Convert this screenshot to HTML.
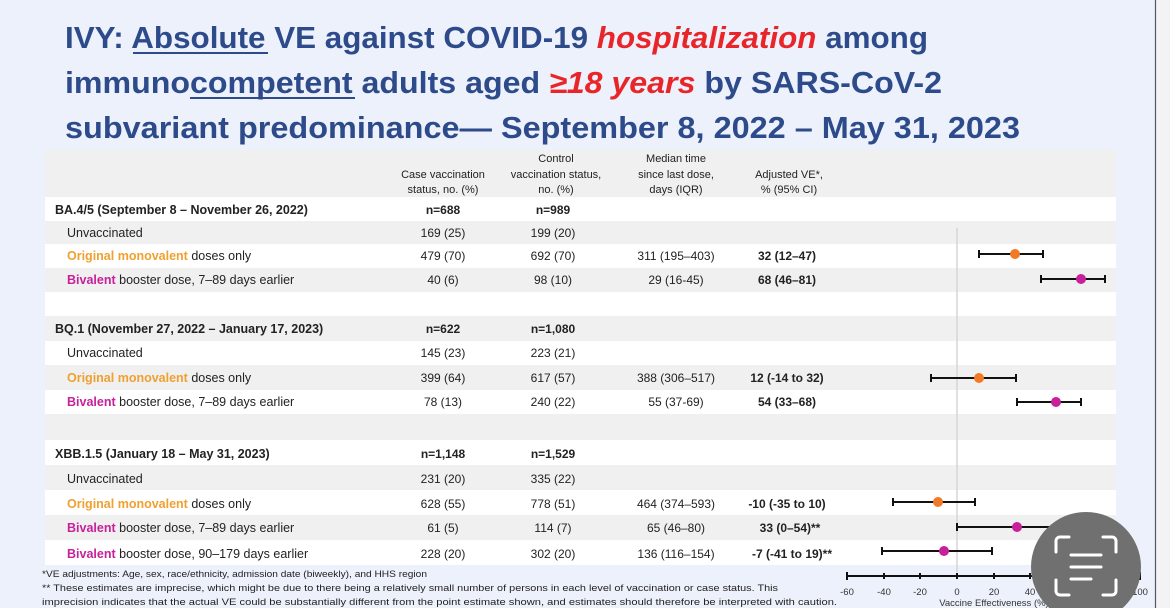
<!DOCTYPE html>
<html><head><meta charset="utf-8"><style>
html,body{margin:0;padding:0;width:1170px;height:608px;overflow:hidden;background:#edf1fb}
svg{display:block}
</style></head><body>
<svg width="1170" height="608" viewBox="0 0 1170 608" xmlns="http://www.w3.org/2000/svg" font-family="'Liberation Sans', sans-serif">
<rect x="0" y="0" width="1155" height="608" fill="#edf1fb"/>
<rect x="1155" y="0" width="15" height="608" fill="#f3f3f5"/>
<line x1="1155.5" y1="0" x2="1155.5" y2="608" stroke="#555" stroke-width="1.2"/>
<!-- title -->
<g font-weight="bold" font-size="31" fill="#2d4a8a">
<text x="65" y="48" textLength="863" lengthAdjust="spacingAndGlyphs">IVY: Absolute VE against COVID-19 <tspan fill="#e8262a" font-style="italic">hospitalization</tspan> among</text>
<text x="65" y="93" textLength="877" lengthAdjust="spacingAndGlyphs">immunocompetent adults aged <tspan fill="#e8262a" font-style="italic">≥18 years</tspan> by SARS-CoV-2</text>
<text x="65" y="138" textLength="955" lengthAdjust="spacingAndGlyphs">subvariant predominance— September 8, 2022 – May 31, 2023</text>
</g>
<line x1="133" y1="53" x2="268" y2="53" stroke="#2d4a8a" stroke-width="2"/>
<line x1="190" y1="98" x2="355" y2="98" stroke="#2d4a8a" stroke-width="2"/>
<!-- panel -->
<rect x="45" y="150" width="1071" height="47" fill="#f0f0f0"/>
<g>
<rect x="45" y="197" width="1071" height="24" fill="#fff"/>
<rect x="45" y="221" width="1071" height="23" fill="#f0f0f0"/>
<rect x="45" y="244" width="1071" height="24" fill="#fff"/>
<rect x="45" y="268" width="1071" height="24" fill="#f0f0f0"/>
<rect x="45" y="292" width="1071" height="24" fill="#fff"/>
<rect x="45" y="316" width="1071" height="25" fill="#f0f0f0"/>
<rect x="45" y="341" width="1071" height="24" fill="#fff"/>
<rect x="45" y="365" width="1071" height="25" fill="#f0f0f0"/>
<rect x="45" y="390" width="1071" height="24" fill="#fff"/>
<rect x="45" y="414" width="1071" height="26" fill="#f0f0f0"/>
<rect x="45" y="440" width="1071" height="25" fill="#fff"/>
<rect x="45" y="465" width="1071" height="25" fill="#f0f0f0"/>
<rect x="45" y="490" width="1071" height="25" fill="#fff"/>
<rect x="45" y="515" width="1071" height="25" fill="#f0f0f0"/>
<rect x="45" y="540" width="1071" height="25" fill="#fff"/>
</g>
<!-- headers -->
<g font-size="11" fill="#222" text-anchor="middle">
<text x="443" y="178">Case vaccination</text><text x="443" y="193">status, no. (%)</text>
<text x="556" y="162">Control</text><text x="556" y="178">vaccination status,</text><text x="556" y="193">no. (%)</text>
<text x="676" y="162">Median time</text><text x="676" y="178">since last dose,</text><text x="676" y="193">days (IQR)</text>
<text x="789" y="178">Adjusted VE*,</text><text x="789" y="193">% (95% CI)</text>
</g>
<g font-size="12.5" fill="#222">
<g font-weight="bold">
<text x="55" y="214">BA.4/5 (September 8 – November 26, 2022)</text>
<text x="55" y="333">BQ.1 (November 27, 2022 – January 17, 2023)</text>
<text x="55" y="458">XBB.1.5 (January 18 – May 31, 2023)</text>
</g>
<text x="67" y="237">Unvaccinated</text>
<text x="67" y="260"><tspan fill="#f0a030" font-weight="bold">Original monovalent</tspan> doses only</text>
<text x="67" y="284"><tspan fill="#c8209a" font-weight="bold">Bivalent</tspan> booster dose, 7–89 days earlier</text>
<text x="67" y="357">Unvaccinated</text>
<text x="67" y="382"><tspan fill="#f0a030" font-weight="bold">Original monovalent</tspan> doses only</text>
<text x="67" y="406"><tspan fill="#c8209a" font-weight="bold">Bivalent</tspan> booster dose, 7–89 days earlier</text>
<text x="67" y="483">Unvaccinated</text>
<text x="67" y="508"><tspan fill="#f0a030" font-weight="bold">Original monovalent</tspan> doses only</text>
<text x="67" y="532"><tspan fill="#c8209a" font-weight="bold">Bivalent</tspan> booster dose, 7–89 days earlier</text>
<text x="67" y="558"><tspan fill="#c8209a" font-weight="bold">Bivalent</tspan> booster dose, 90–179 days earlier</text>
</g>
<g font-size="12" fill="#222" text-anchor="middle">
<g font-weight="bold">
<text x="443" y="214">n=688</text><text x="553" y="214">n=989</text>
<text x="443" y="333">n=622</text><text x="553" y="333">n=1,080</text>
<text x="443" y="458">n=1,148</text><text x="553" y="458">n=1,529</text>
<text x="787" y="260">32 (12–47)</text><text x="787" y="284">68 (46–81)</text>
<text x="787" y="382">12 (-14 to 32)</text><text x="787" y="406">54 (33–68)</text>
<text x="787" y="508">-10 (-35 to 10)</text><text x="790" y="532">33 (0–54)**</text>
<text x="792" y="558">-7 (-41 to 19)**</text>
</g>
<text x="443" y="237">169 (25)</text><text x="553" y="237">199 (20)</text>
<text x="443" y="260">479 (70)</text><text x="553" y="260">692 (70)</text><text x="676" y="260">311 (195–403)</text>
<text x="443" y="284">40 (6)</text><text x="553" y="284">98 (10)</text><text x="676" y="284">29 (16-45)</text>
<text x="443" y="357">145 (23)</text><text x="553" y="357">223 (21)</text>
<text x="443" y="382">399 (64)</text><text x="553" y="382">617 (57)</text><text x="676" y="382">388 (306–517)</text>
<text x="443" y="406">78 (13)</text><text x="553" y="406">240 (22)</text><text x="676" y="406">55 (37-69)</text>
<text x="443" y="483">231 (20)</text><text x="553" y="483">335 (22)</text>
<text x="443" y="508">628 (55)</text><text x="553" y="508">778 (51)</text><text x="676" y="508">464 (374–593)</text>
<text x="443" y="532">61 (5)</text><text x="553" y="532">114 (7)</text><text x="676" y="532">65 (46–80)</text>
<text x="443" y="558">228 (20)</text><text x="553" y="558">302 (20)</text><text x="676" y="558">136 (116–154)</text>
</g>
<!-- footnotes -->
<g font-size="9.5" fill="#222">
<text x="42" y="577" textLength="385" lengthAdjust="spacingAndGlyphs">*VE adjustments: Age, sex, race/ethnicity, admission date (biweekly), and HHS region</text>
<text x="42" y="591" textLength="736" lengthAdjust="spacingAndGlyphs">** These estimates are imprecise, which might be due to there being a relatively small number of persons in each level of vaccination or case status. This</text>
<text x="42" y="605" textLength="795" lengthAdjust="spacingAndGlyphs">imprecision indicates that the actual VE could be substantially different from the point estimate shown, and estimates should therefore be interpreted with caution.</text>
</g>
<!-- forest -->
<line x1="957" y1="228" x2="957" y2="572" stroke="#d6d6d6" stroke-width="1.5"/>
<g stroke="#111" stroke-width="2">
<line x1="847" y1="576" x2="1140" y2="576"/>
<line x1="847" y1="572" x2="847" y2="580"/><line x1="884" y1="573" x2="884" y2="579"/><line x1="920" y1="573" x2="920" y2="579"/><line x1="957" y1="573" x2="957" y2="579"/><line x1="994" y1="573" x2="994" y2="579"/><line x1="1030" y1="573" x2="1030" y2="579"/><line x1="1067" y1="573" x2="1067" y2="579"/><line x1="1104" y1="573" x2="1104" y2="579"/><line x1="1140" y1="572" x2="1140" y2="580"/>
</g>
<g font-size="9.5" fill="#333" text-anchor="middle">
<text x="847" y="595">-60</text><text x="884" y="595">-40</text><text x="920" y="595">-20</text><text x="957" y="595">0</text><text x="994" y="595">20</text><text x="1030" y="595">40</text><text x="1067" y="595">60</text><text x="1104" y="595">80</text><text x="1140" y="595">100</text>
<text x="994" y="606">Vaccine Effectiveness (%)</text>
</g>
<g stroke="#111" stroke-width="2">
<line x1="979" y1="254" x2="1043" y2="254"/><line x1="979" y1="250" x2="979" y2="258"/><line x1="1043" y1="250" x2="1043" y2="258"/>
<line x1="1041" y1="279" x2="1105" y2="279"/><line x1="1041" y1="275" x2="1041" y2="283"/><line x1="1105" y1="275" x2="1105" y2="283"/>
<line x1="931" y1="378" x2="1016" y2="378"/><line x1="931" y1="374" x2="931" y2="382"/><line x1="1016" y1="374" x2="1016" y2="382"/>
<line x1="1017" y1="402" x2="1081" y2="402"/><line x1="1017" y1="398" x2="1017" y2="406"/><line x1="1081" y1="398" x2="1081" y2="406"/>
<line x1="893" y1="502" x2="975" y2="502"/><line x1="893" y1="498" x2="893" y2="506"/><line x1="975" y1="498" x2="975" y2="506"/>
<line x1="957" y1="527" x2="1056" y2="527"/><line x1="957" y1="523" x2="957" y2="531"/>
<line x1="882" y1="551" x2="992" y2="551"/><line x1="882" y1="547" x2="882" y2="555"/><line x1="992" y1="547" x2="992" y2="555"/>
</g>
<circle cx="1015" cy="254" r="5" fill="#f07a28"/>
<circle cx="1081" cy="279" r="5" fill="#c8209a"/>
<circle cx="979" cy="378" r="5" fill="#f07a28"/>
<circle cx="1056" cy="402" r="5" fill="#c8209a"/>
<circle cx="938" cy="502" r="5" fill="#f07a28"/>
<circle cx="1017" cy="527" r="5" fill="#c8209a"/>
<circle cx="944" cy="551" r="5" fill="#c8209a"/>
<!-- overlay button -->
<circle cx="1086" cy="567" r="55" fill="#707070"/>
<g stroke="#fff" stroke-width="3" fill="none" stroke-linecap="round">
<path d="M1069 537 h-9 a4 4 0 0 0 -4 4 v11"/>
<path d="M1103 537 h9 a4 4 0 0 1 4 4 v11"/>
<path d="M1056 580 v11 a4 4 0 0 0 4 4 h9"/>
<path d="M1116 580 v11 a4 4 0 0 1 -4 4 h-9"/>
<line x1="1071" y1="555" x2="1101" y2="555"/>
<line x1="1071" y1="567" x2="1101" y2="567"/>
<line x1="1071" y1="579" x2="1091" y2="579"/>
</g>
</svg>
</body></html>
